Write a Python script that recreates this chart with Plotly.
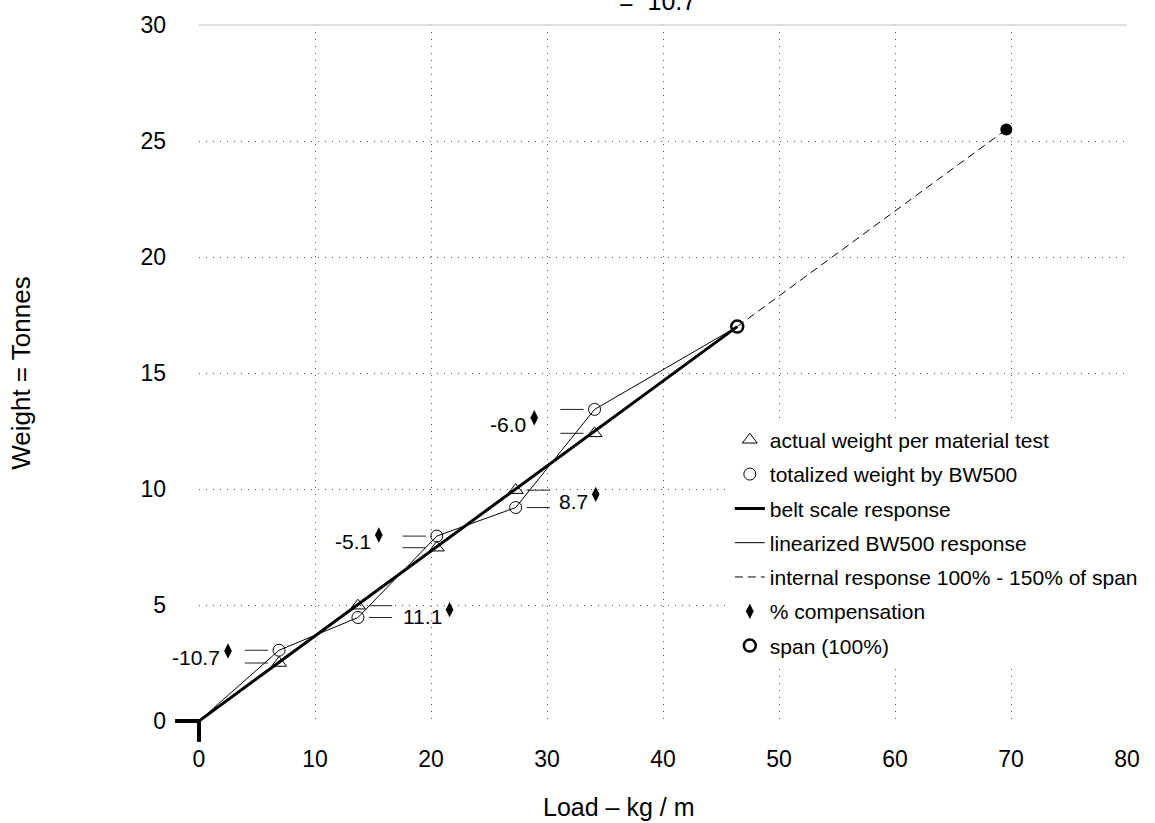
import plotly.graph_objects as go

# test points (load kg/m) and weights (tonnes)
load = [6.9, 13.7, 20.5, 27.3, 34.1]
actual_weight = [2.5, 4.97, 7.47, 9.95, 12.4]
totalized_weight = [3.05, 4.46, 7.97, 9.2, 13.43]

# span (100%) and internal response end point (150%)
span_load = 46.4
span_weight = 17.0
internal_load = [46.4, 69.6]
internal_weight = [17.0, 25.5]

# % compensation markers and their labels
comp_x = [2.5, 21.6, 15.5, 34.2, 28.9]
comp_y = [3.02, 4.8, 8.02, 9.77, 13.07]
comp_labels = ["-10.7", "11.1", "-5.1", "8.7", "-6.0"]
bar_side = [-1, 1, -1, 1, -1]

x_ticks = [0, 10, 20, 30, 40, 50, 60, 70, 80]
y_ticks = [0, 5, 10, 15, 20, 25, 30]

FONT = "Liberation Sans, Arial, Helvetica, sans-serif"

fig = go.Figure()

# short reference bars beside each test pair
bx, by = [], []
for x, a, t, s in zip(load, actual_weight, totalized_weight, bar_side):
    for yv in (a, t):
        bx += [x + s * 0.95, x + s * 2.95, None]
        by += [yv, yv, None]
fig.add_trace(go.Scatter(x=bx, y=by, mode="lines", line=dict(color="#222", width=1),
                         showlegend=False, hoverinfo="skip"))

fig.add_trace(go.Scatter(
    x=[0, span_load], y=[0, span_weight], mode="lines", name="belt scale response",
    line=dict(color="black", width=3), legendrank=3, legendgroup="c"))

fig.add_trace(go.Scatter(
    x=[0] + load + [span_load], y=[0] + totalized_weight + [span_weight], mode="lines",
    name="linearized BW500 response", line=dict(color="black", width=1),
    legendrank=4, legendgroup="d"))

fig.add_trace(go.Scatter(
    x=internal_load, y=internal_weight, mode="lines",
    name="internal response 100% - 150% of span",
    line=dict(color="black", width=1, dash="8px,5px"), legendrank=5, legendgroup="e"))

fig.add_trace(go.Scatter(
    x=load, y=actual_weight, mode="markers", name="actual weight per material test",
    marker=dict(symbol="triangle-up-open", size=13, color="black", line=dict(width=1)),
    legendrank=1, legendgroup="a"))

fig.add_trace(go.Scatter(
    x=load, y=totalized_weight, mode="markers", name="totalized weight by BW500",
    marker=dict(symbol="circle-open", size=12, color="black", line=dict(width=1)),
    legendrank=2, legendgroup="b"))

fig.add_trace(go.Scatter(
    x=comp_x, y=comp_y, mode="markers", name="% compensation",
    marker=dict(symbol="diamond-tall", size=11, color="black"),
    legendrank=6, legendgroup="f"))

fig.add_trace(go.Scatter(
    x=[span_load], y=[span_weight], mode="markers", name="span (100%)",
    marker=dict(symbol="circle-open", size=12, color="black", line=dict(width=2.5)),
    legendrank=7, legendgroup="g"))

fig.add_trace(go.Scatter(
    x=internal_load[1:], y=internal_weight[1:], mode="markers", showlegend=False,
    marker=dict(symbol="circle", size=12, color="black")))

for x, y, lab in zip(comp_x, comp_y, comp_labels):
    fig.add_annotation(x=x, y=y, text=lab, showarrow=False, xanchor="right",
                       xshift=-6, yshift=-7, font=dict(size=21, color="black"))

# axis titles and top caption
fig.add_annotation(xref="paper", yref="paper", x=0.452, y=-0.124, text="Load \u2013 kg / m",
                   xanchor="center", yanchor="middle",
                   showarrow=False, font=dict(size=25, color="black"))
fig.add_annotation(xref="paper", yref="paper", x=-0.192, y=0.5, text="Weight = Tonnes",
                   xanchor="center", yanchor="middle",
                   textangle=-90, showarrow=False, font=dict(size=26, color="black"))
fig.add_annotation(xref="paper", yref="paper", x=0.494, y=1.035, text="= \u00a010.7",
                   xanchor="center", yanchor="middle",
                   showarrow=False, font=dict(size=25, color="black"))

# light top rule and heavy stubs at the origin
fig.add_shape(type="line", xref="x domain", yref="y domain", x0=0, x1=1, y0=1, y1=1,
              line=dict(color="#d6d6d6", width=1.5))
fig.add_shape(type="line", xref="x domain", yref="y domain", x0=-24 / 931, x1=0, y0=0, y1=0,
              line=dict(color="black", width=4))
fig.add_shape(type="line", xref="x domain", yref="y domain", x0=0, x1=0, y0=0, y1=-21 / 700,
              line=dict(color="black", width=4))

axis_common = dict(
    showgrid=True, gridcolor="#555", gridwidth=1, griddash="1px,6px",
    zeroline=False, showline=False, ticks="",
    tickfont=dict(size=23, color="black"),
)

fig.update_layout(
    width=1155, height=823,
    margin=dict(l=199, r=25, t=21, b=102),
    paper_bgcolor="white", plot_bgcolor="white",
    font=dict(family=FONT, color="black"),
    xaxis=dict(range=[0, 80], tickvals=x_ticks, ticklabelstandoff=22, **axis_common),
    yaxis=dict(range=[0, 30], tickvals=y_ticks, ticklabelstandoff=32, **axis_common),
    legend=dict(
        x=0.572, y=0.433, xanchor="left", yanchor="top",
        bgcolor="white", borderwidth=0,
        font=dict(size=21, color="black"),
        traceorder="grouped", tracegroupgap=4,
    ),
    showlegend=True,
)

fig.write_html("out.html", config={"displayModeBar": False},
               post_script="document.body.style.margin='0';")
